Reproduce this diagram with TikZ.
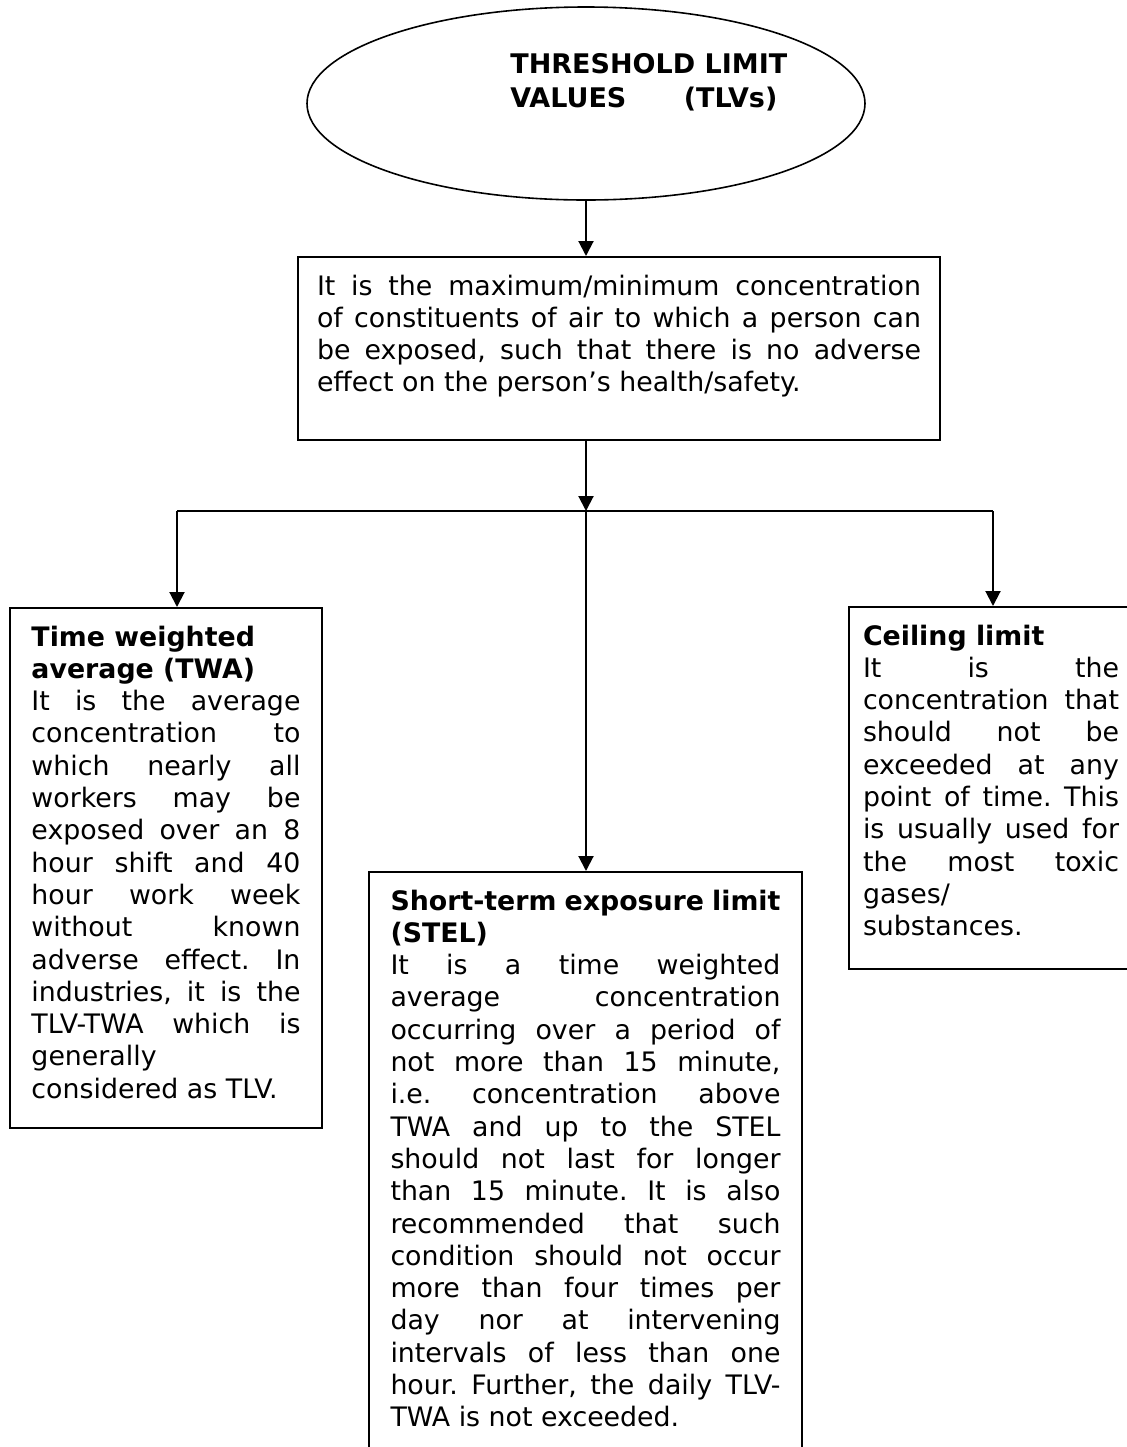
\documentclass[tikz,border=0pt]{standalone}
\usepackage{fontspec}
\setmainfont{DejaVu Sans}
\usetikzlibrary{shapes.geometric,arrows.meta}
\frenchspacing
\newcommand\jline[1]{\makebox[\linewidth][s]{#1}\par}
\newcommand\lline[1]{\makebox[\linewidth][l]{#1}\par}
\newcommand\fstrut{\rule{0pt}{19pt}}
\newcommand\bodyfont{\fontsize{13.4}{16.15}\selectfont\frenchspacing}
\tikzset{
  box/.style={draw, line width=1pt, rectangle, inner ysep=0pt, anchor=north west},
  conn/.style={line width=1pt, -{Triangle[length=7.5pt,width=7.5pt]}},
  plain/.style={line width=1pt},
}
\begin{document}
\begin{tikzpicture}[x=0.5pt,y=-0.5pt]
\useasboundingbox (0,0) rectangle (1127,1447);
\clip (0,0) rectangle (1127,1447);
% title ellipse
\node[draw, ellipse, line width=0.8pt, minimum width=279pt, minimum height=96.5pt, inner sep=0pt] (ell) at (586,103.5) {};
\node[anchor=north west, inner sep=0pt] (title) at (510,48)
  {\parbox[t]{139pt}{\fontsize{13.5}{17}\selectfont\bfseries
   \rule{0pt}{12.5pt}THRESHOLD LIMIT\par
   \hbox to\linewidth{VALUES\hfill(TLVs)\hspace*{5.5pt}}}};
% definition box
\node[box, inner xsep=9.5pt] (def) at (297,256)
  {\parbox[c][91.5pt][t]{302pt}{\bodyfont
   \jline{\fstrut It is the maximum/minimum concentration}
   \jline{of constituents of air to which a person can}
   \jline{be exposed, such that there is no adverse}
   \lline{effect on the person’s health/safety.}}};
% TWA box
\node[box, inner xsep=10.75pt] (twa) at (9,607)
  {\parbox[c][260pt][t]{134.5pt}{\bodyfont
   \lline{\fstrut\bfseries Time weighted}
   \lline{\bfseries average (TWA)}
   \jline{It is the average}
   \jline{concentration to}
   \jline{which nearly all}
   \jline{workers may be}
   \jline{exposed over an 8}
   \jline{hour shift and 40}
   \jline{hour work week}
   \jline{without known}
   \jline{adverse effect. In}
   \jline{industries, it is the}
   \jline{TLV-TWA which is}
   \lline{generally}
   \lline{considered as TLV.}}};
% Ceiling box
\node[box, inner xsep=7pt] (ceil) at (848,606)
  {\parbox[c][181pt][t]{128pt}{\bodyfont
   \lline{\fstrut\bfseries Ceiling limit}
   \jline{It is the}
   \jline{concentration that}
   \jline{should not be}
   \jline{exceeded at any}
   \jline{point of time. This}
   \jline{is usually used for}
   \jline{the most toxic}
   \lline{gases/}
   \lline{substances.}}};
% STEL box
\node[box, inner xsep=10.75pt] (stel) at (368,871)
  {\parbox[c][294.5pt][t]{195pt}{\bodyfont
   \jline{\fstrut\bfseries Short-term exposure limit}
   \lline{\bfseries (STEL)}
   \jline{It is a time weighted}
   \jline{average concentration}
   \jline{occurring over a period of}
   \jline{not more than 15 minute,}
   \jline{i.e. concentration above}
   \jline{TWA and up to the STEL}
   \jline{should not last for longer}
   \jline{than 15 minute. It is also}
   \jline{recommended that such}
   \jline{condition should not occur}
   \jline{more than four times per}
   \jline{day nor at intervening}
   \jline{intervals of less than one}
   \jline{hour. Further, the daily TLV-}
   \lline{TWA is not exceeded.}}};
% connectors
\coordinate (hub) at (586,511);
\coordinate (lft) at (177,511);
\coordinate (rgt) at (993,511);
\draw[conn] (ell.south) -- (ell.south |- def.north);
\draw[conn] (hub |- def.south) -- (hub);
\draw[plain] (lft) -- (rgt);
\draw[conn] (lft) -- (lft |- twa.north);
\draw[conn] (rgt) -- (rgt |- ceil.north);
\draw[conn] (hub) -- (hub |- stel.north);
\end{tikzpicture}
\end{document}
